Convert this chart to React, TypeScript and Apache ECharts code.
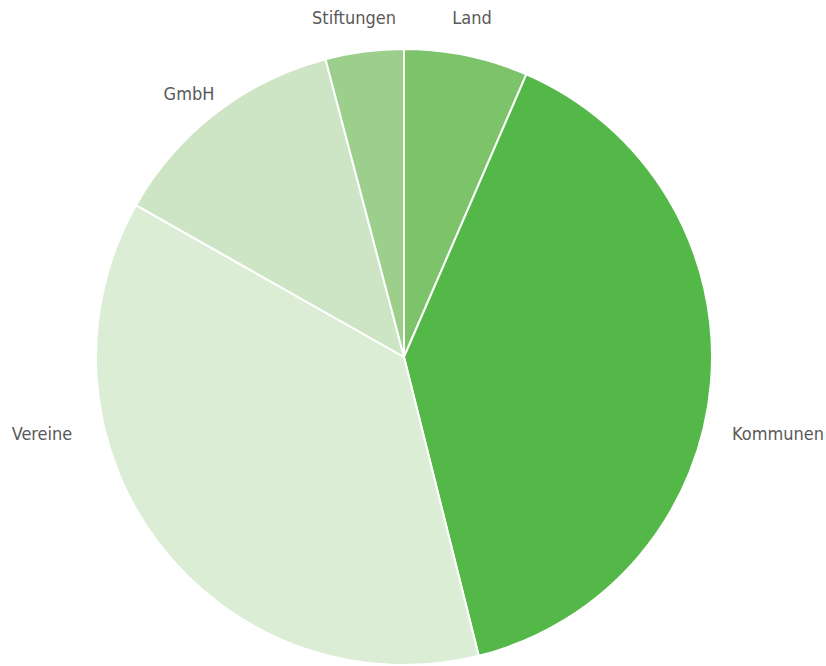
import React, { useEffect, useRef } from "react";
import * as echarts from "echarts";

const categories = ["Land", "Kommunen", "Vereine", "GmbH", "Stiftungen"];
const values = [6.5, 39.6, 37.1, 12.7, 4.1];
const colors = ["#7cc36a", "#53b848", "#dcedd6", "#cde5c4", "#9ccf8c"];
// label anchor points (center of text), in pixels
const labelAnchors: [number, number][] = [
  [472, 17],
  [778, 433],
  [42, 433],
  [189, 93],
  [354, 17],
];

export default function App() {
  const ref = useRef<HTMLDivElement>(null);
  useEffect(() => {
    document.body.style.margin = "0";
    const chart = echarts.init(ref.current!, null, { renderer: "svg" });
    chart.setOption({
      animation: false,
      backgroundColor: "#ffffff",
      series: [
        {
          type: "pie",
          center: [404, 357],
          radius: 308,
          startAngle: 90,
          clockwise: true,
          avoidLabelOverlap: false,
          itemStyle: { borderColor: "#ffffff", borderWidth: 2 },
          label: {
            show: true,
            position: "outside",
            formatter: "{b}",
            color: "#595959",
            fontSize: 18,
            fontFamily: "'DejaVu Sans Condensed', 'Liberation Sans Narrow', sans-serif",
          },
          labelLine: { show: false },
          labelLayout: (params: any) => {
            const a = labelAnchors[params.dataIndex];
            return { x: a[0], y: a[1], align: "center", verticalAlign: "middle" };
          },
          emphasis: { disabled: true },
          data: categories.map((c, i) => ({
            name: c,
            value: values[i],
            itemStyle: { color: colors[i] },
          })),
        },
      ],
    });
    return () => chart.dispose();
  }, []);
  return <div ref={ref} style={{ width: 826, height: 666 }} />;
}
